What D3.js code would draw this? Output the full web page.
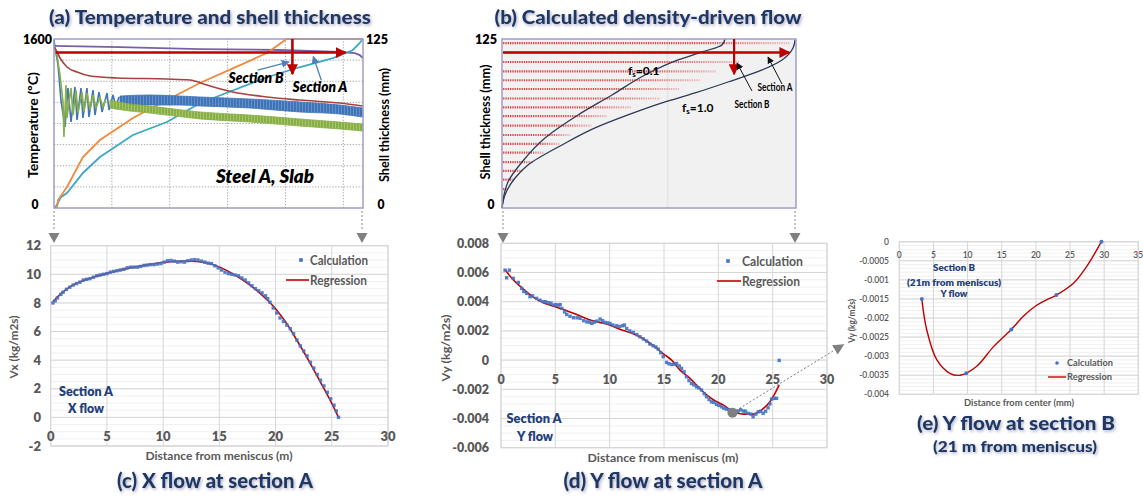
<!DOCTYPE html>
<html>
<head>
<meta charset="utf-8">
<script src="https://cdn.jsdelivr.net/npm/d3@7"></script>
<style>
body{margin:0;background:#fff}
svg{display:block;font-family:Lato,"Open Sans",sans-serif}
</style>
</head>
<body>
<svg id="fig" width="1143" height="497"></svg>
<script>
// ---------- (a) temperature (degC) and shell thickness (mm) vs distance (m)
const aPurple = [[0,1534],[5.7,1524],[12.61,1505],[19.52,1496],[24.7,1477],[26.0,1467],[26.42,1448],[26.68,1420]];
const aBrown = [[0,1524],[0.17,1496],[0.52,1420],[1.12,1335],[1.99,1287],[3.11,1250],[5.44,1231],[9.76,1221],[11.74,1212],[13.21,1164],[15.46,1098],[18.39,1051],[21.24,1022],[24.7,994],[26.68,966]];
const aBlueEarly = [[0,1590],[0.09,1515],[0.35,1354],[0.6,1022],[0.95,767],[1.21,1136],[1.47,814],[1.81,1146],[1.99,833],[2.33,1136],[2.5,852],[2.85,1136],[3.02,861],[3.37,1117],[3.54,880],[3.89,1098],[4.15,909],[4.58,1089],[4.75,928],[5.1,1070],[5.35,956],[5.61,1051]];
const aBlueBandX = [5.7, 8.29, 10.88, 12.61, 16.93, 21.24, 24.7, 26.68];
const aBlueBandHi = [1060, 1070, 1060, 1051, 1032, 1004, 975, 947];
const aBlueBandLo = [966, 975, 975, 966, 947, 909, 890, 861];
const aGreenEarly = [[0,1543],[0.26,1448],[0.52,1259],[0.78,1004],[0.86,672],[1.04,1164],[1.12,852],[1.47,1136],[1.64,880],[1.9,1117],[2.07,899],[2.42,1098],[2.59,909],[2.85,1089],[3.11,928],[3.37,1070],[3.63,947],[3.97,1051],[4.23,956],[4.49,1032]];
const aGreenBandX = [4.84, 6.56, 8.29, 12.61, 16.93, 21.24, 24.7, 26.68];
const aGreenBandHi = [1022, 985, 966, 909, 880, 843, 814, 795];
const aGreenBandLo = [947, 918, 899, 843, 814, 776, 748, 729];
const aOrange = [[0.26,0],[0.35,5.9],[1.12,15.5],[2.5,37.7],[3.97,50.3],[6.82,66.6],[9.76,79.9],[12.6,92.5],[15.5,103.5],[18.4,114.6],[20.1,125],[26.7,125]];
const aTeal = [[0.09,0],[0.6,8],[1.12,11.1],[2.5,25.9],[3.97,37.7],[6.82,54],[9.76,63.6],[12.6,77.5],[15.5,87.1],[18.4,96.7],[21.2,104.1],[24.1,110.8],[25.8,116.7],[26.4,121.9],[26.68,125]];
const aTempTicks = [0, 1600];
const aShellTicks = [0, 125];

// ---------- (b) solid fraction fronts and flow magnitude rows
const bFs01 = [[0,0],[0.18,9.6],[0.54,19.2],[1.81,34],[3.89,51.8],[6.88,68.8],[9.95,83.6],[12.94,98.4],[15.93,109.5],[18.1,115.4],[19.9,120.6],[20.18,125]];
const bFs10 = [[0,0],[0.27,9.6],[1.18,22.2],[2.35,31.8],[5.43,46.6],[8.42,59.2],[11.4,68.8],[14.48,77.7],[17.47,85.1],[20.45,93.2],[23.53,102.1],[25.34,109.5],[26.33,118.3],[26.52,124.5]];
const bRowDepth = [122, 115, 108, 101, 94.5, 88, 81, 74.5, 68, 61, 54, 47.5, 41, 34, 27.5, 21, 14];
const bRowLength = [26.0, 24.0, 21.5, 19.4, 18.0, 16.1, 14.3, 11.7, 9.5, 8.1, 6.2, 5.2, 3.8, 2.8, 1.9, 1.1, 0.45];
const sectionADepth = 115;
const sectionBDist = 21;

// ---------- (c) X flow at section A
const cCalc = [[0.2,8.0],[0.4,8.15],[0.6,8.35],[0.9,8.6],[1.1,8.75],[1.4,8.95],[1.7,9.1],[2.0,9.25],[2.3,9.35],[2.6,9.45],[2.9,9.6],[3.2,9.65],[3.5,9.7],[3.8,9.8],[4.1,9.9],[4.4,9.95],[4.7,10.0],[5.0,10.05],[5.3,10.15],[5.6,10.2],[5.9,10.25],[6.2,10.3],[6.5,10.35],[6.8,10.45],[7.1,10.5],[7.4,10.5],[7.7,10.5],[8.0,10.55],[8.3,10.62],[8.6,10.65],[8.9,10.68],[9.2,10.68],[9.5,10.72],[9.8,10.75],[10.1,10.85],[10.4,10.95],[10.7,10.97],[11.0,10.92],[11.3,10.85],[11.6,10.88],[11.9,10.85],[12.2,10.95],[12.5,11.0],[12.8,11.02],[13.1,11.0],[13.4,10.92],[13.7,10.85],[14.0,10.78],[14.3,10.75],[14.6,10.6],[14.9,10.45],[15.2,10.3],[15.5,10.15],[15.8,10.05],[16.1,10.0],[16.4,9.95],[16.7,9.9],[17.0,9.75],[17.3,9.6],[17.6,9.4],[17.9,9.2],[18.2,9.0],[18.5,8.85],[18.8,8.7],[19.1,8.5],[19.3,8.3],[19.5,8.05],[19.8,7.65],[20.1,7.3],[20.4,6.95],[20.7,6.7],[21.0,6.45],[21.3,6.2],[21.6,5.85],[21.9,5.4],[22.2,5.0],[22.5,4.65],[22.8,4.3],[23.1,3.85],[23.4,3.45],[23.7,3.0],[24.0,2.6],[24.3,2.2],[24.6,1.75],[24.9,1.3],[25.2,0.85],[25.4,0.45],[25.6,0.0]];
const cReg = [[0.2,8.1],[1,8.7],[2,9.26],[3,9.58],[4,9.85],[5,10.07],[6,10.27],[7,10.45],[8,10.58],[9,10.72],[10,10.84],[11,10.9],[12,10.93],[13,10.9],[14,10.78],[15,10.52],[16,10.12],[17,9.65],[18,9.08],[19,8.4],[20,7.6],[21,6.55],[22,5.25],[23,3.9],[24,2.45],[25,0.98],[25.6,0]];
const cXTicks = [0, 5, 10, 15, 20, 25, 30];
const cYTicks = [-2, 0, 2, 4, 6, 8, 10, 12];

// ---------- (d) Y flow at section A
const dCalc = [[0.37,0.00616],[0.52,0.00564],[0.77,0.00616],[1.13,0.0056],[1.59,0.00532],[1.9,0.00491],[2.1,0.0047],[2.36,0.00457],[2.67,0.00434],[2.9,0.0044],[3.28,0.00423],[3.6,0.0041],[3.9,0.004],[4.1,0.004],[4.36,0.00393],[4.6,0.0039],[4.82,0.00377],[5.05,0.0038],[5.28,0.00377],[5.45,0.0038],[5.6,0.00354],[5.85,0.0033],[6.05,0.00313],[6.35,0.003],[6.67,0.0029],[7.0,0.0029],[7.28,0.00286],[7.6,0.0027],[7.9,0.00262],[8.15,0.0026],[8.36,0.00251],[8.6,0.0026],[8.82,0.00267],[9.12,0.00281],[9.35,0.0027],[9.57,0.00258],[9.8,0.00255],[10.03,0.00251],[10.3,0.0024],[10.64,0.00235],[10.9,0.0023],[11.19,0.00235],[11.35,0.0024],[11.56,0.00217],[11.85,0.002],[12.17,0.0019],[12.5,0.00175],[12.78,0.0016],[13.1,0.00145],[13.4,0.0013],[13.7,0.0011],[14.0,0.00098],[14.25,0.0009],[14.47,0.00075],[14.7,0.0005],[14.93,0.00023],[15.24,-0.00016],[15.45,-0.00025],[15.7,-0.0003],[15.95,-0.00028],[16.16,-0.00023],[16.4,-0.0004],[16.62,-0.00057],[16.85,-0.0008],[17.07,-0.00114],[17.3,-0.0014],[17.53,-0.0016],[17.75,-0.0017],[17.99,-0.00183],[18.2,-0.0019],[18.45,-0.00205],[18.7,-0.0023],[18.91,-0.00251],[19.15,-0.0027],[19.37,-0.00286],[19.6,-0.0029],[19.83,-0.00303],[20.05,-0.0031],[20.29,-0.0032],[20.5,-0.0033],[20.75,-0.00336],[21.0,-0.0034],[21.6,-0.0035],[21.83,-0.00349],[22.05,-0.0034],[22.29,-0.00349],[22.5,-0.0035],[22.75,-0.00365],[23.0,-0.0037],[23.2,-0.00388],[23.45,-0.0037],[23.67,-0.00354],[23.9,-0.0035],[24.12,-0.00365],[24.35,-0.0035],[24.58,-0.00327],[24.75,-0.003],[24.9,-0.00267],[25.15,-0.00262],[25.36,-0.00262],[25.6,-0.00002]];
const dReg = [[0.37,0.0062],[1,0.0056],[2,0.0049],[3,0.0043],[4,0.0039],[5,0.00366],[6,0.0034],[7,0.0031],[8,0.0028],[9,0.0026],[10,0.0024],[11,0.0021],[12,0.00185],[13,0.0015],[14,0.001],[15,0.0004],[15.7,0.0],[16.5,-0.0007],[17.4,-0.00125],[18.5,-0.0021],[19.5,-0.0027],[20.5,-0.0031],[21.3,-0.0035],[22.3,-0.0037],[23.2,-0.0037],[24,-0.0034],[24.75,-0.00285],[25.2,-0.0023],[25.6,-0.0017]];
const dSectionB = [21.3, -0.0036];
const dXTicks = [0, 5, 10, 15, 20, 25, 30];
const dYTicks = [-0.006, -0.004, -0.002, 0, 0.002, 0.004, 0.006, 0.008];

// ---------- (e) Y flow at section B
const eCalc = [[3.3,-0.0015],[9.8,-0.00345],[16.4,-0.0023],[23,-0.0014],[29.6,0]];
const eReg = [[3.3,-0.0015],[4.0,-0.0023],[5.5,-0.0031],[7.4,-0.00345],[8.9,-0.0035],[11.3,-0.00327],[13.8,-0.00275],[16.4,-0.0023],[18.2,-0.00195],[20,-0.00168],[21.5,-0.00153],[23,-0.0014],[25.5,-0.00109],[27.4,-0.00066],[29.6,0]];
const eXTicks = [0, 5, 10, 15, 20, 25, 30, 35];
const eYTicks = [-0.004, -0.0035, -0.003, -0.0025, -0.002, -0.0015, -0.001, -0.0005, 0];

const navy = '#1f3864', textGray = '#595959', calcBlue = '#4472c4', regRed = '#c00000';

const svg = d3.select('#fig');
const defs = svg.append('defs');

const glow = defs.append('filter').attr('id', 'glow').attr('x', '-10%').attr('y', '-30%').attr('width', '120%').attr('height', '160%');
glow.append('feDropShadow').attr('dx', 1.2).attr('dy', 1.5).attr('stdDeviation', 1.4)
  .attr('flood-color', '#7a7fa8').attr('flood-opacity', 0.65);

function marker(id, color, size) {
  defs.append('marker').attr('id', id).attr('viewBox', '0 0 10 10')
    .attr('refX', 9).attr('refY', 5).attr('markerWidth', size).attr('markerHeight', size)
    .attr('markerUnits', 'userSpaceOnUse').attr('orient', 'auto')
    .append('path').attr('d', 'M0,0L10,5L0,10z').attr('fill', color);
}
marker('redHead', '#c00000', 11);
marker('blueHead', '#4f81bd', 8);
marker('blackHead', '#111', 7);
marker('grayHead', '#808080', 11);

function stripes(id, bg, fg) {
  const p = defs.append('pattern').attr('id', id).attr('patternUnits', 'userSpaceOnUse')
    .attr('width', 3).attr('height', 6);
  p.append('rect').attr('width', 3).attr('height', 6).attr('fill', bg);
  p.append('rect').attr('width', 2).attr('height', 6).attr('fill', fg);
}
stripes('blueTex', '#6690c8', '#3f74b8');
stripes('greenTex', '#a6c46e', '#88ae46');

function title(x, y, size, len, txt) {
  svg.append('text').attr('x', x).attr('y', y).attr('text-anchor', 'middle')
    .attr('font-size', size).attr('font-weight', 900).attr('fill', navy)
    .attr('textLength', len).attr('lengthAdjust', 'spacingAndGlyphs')
    .attr('filter', 'url(#glow)').text(txt);
}

function label(g, x, y, size, len, txt, opt = {}) {
  return g.append('text').attr('x', x).attr('y', y)
    .attr('text-anchor', opt.anchor || 'middle').attr('font-size', size)
    .attr('font-weight', opt.weight || 700).attr('font-style', opt.style || 'normal')
    .attr('fill', opt.fill || '#000')
    .attr('textLength', len).attr('lengthAdjust', 'spacingAndGlyphs').text(txt);
}

function vLabel(g, x, y, size, len, txt, fill) {
  g.append('text').attr('transform', `translate(${x},${y}) rotate(-90)`)
    .attr('text-anchor', 'middle').attr('font-size', size).attr('font-weight', 700)
    .attr('fill', fill).attr('textLength', len).attr('lengthAdjust', 'spacingAndGlyphs').text(txt);
}

//________________ (a) ________________
const ga = svg.append('g');
const ax = d3.scaleLinear().domain([0, 26.7]).range([54, 363]);
const aT = d3.scaleLinear().domain([0, 1600]).range([208, 39]);
const aS = d3.scaleLinear().domain([0, 125]).range([208, 39]);

ga.selectAll(null).data(aT.ticks(8).filter(d => d > 0 && d < 1600)).join('line')
  .attr('x1', ax(0)).attr('x2', ax(26.7)).attr('y1', d => aT(d)).attr('y2', d => aT(d))
  .attr('stroke', '#9c9c9c').attr('stroke-width', 0.9).attr('stroke-dasharray', '1.3,1.6');
ga.selectAll(null).data([5, 10, 15, 20, 25]).join('line')
  .attr('x1', d => ax(d)).attr('x2', d => ax(d)).attr('y1', aT(0)).attr('y2', aT(1600))
  .attr('stroke', '#9c9c9c').attr('stroke-width', 0.9).attr('stroke-dasharray', '1.3,1.6');

const lineA = d3.line().x(d => ax(d[0])).y(d => aT(d[1]));
const lineS = d3.line().x(d => ax(d[0])).y(d => aS(d[1]));

ga.append('path').datum(aPurple).attr('d', lineA).attr('fill', 'none').attr('stroke', '#7b5fa3').attr('stroke-width', 1.8);
ga.append('path').datum(aTeal).attr('d', lineS).attr('fill', 'none').attr('stroke', '#3ea7c2').attr('stroke-width', 1.8);
ga.append('path').datum(aOrange).attr('d', lineS).attr('fill', 'none').attr('stroke', '#f08a3c').attr('stroke-width', 1.8);

const blueBand = aBlueBandX.map((x, i) => [x, aBlueBandLo[i], aBlueBandHi[i]]);
const greenBand = aGreenBandX.map((x, i) => [x, aGreenBandLo[i], aGreenBandHi[i]]);
const band = d3.area().curve(d3.curveMonotoneX).x(d => ax(d[0])).y0(d => aT(d[1])).y1(d => aT(d[2]));

ga.append('path').datum(blueBand).attr('d', band).attr('fill', 'url(#blueTex)').attr('stroke', '#3f74b8').attr('stroke-width', 0.8);
ga.append('path').datum(aBlueEarly).attr('d', lineA).attr('fill', 'none').attr('stroke', '#3f74b8').attr('stroke-width', 1.6);
ga.append('path').datum(greenBand).attr('d', band).attr('fill', 'url(#greenTex)').attr('stroke', '#88ae46').attr('stroke-width', 0.8);
ga.append('path').datum(aGreenEarly).attr('d', lineA).attr('fill', 'none').attr('stroke', '#88ae46').attr('stroke-width', 1.6);
ga.append('path').datum(aBrown).attr('d', lineA.curve(d3.curveMonotoneX)).attr('fill', 'none').attr('stroke', '#a8413f').attr('stroke-width', 1.6);
lineA.curve(d3.curveLinear);

ga.append('rect').attr('x', ax(0)).attr('y', aT(1600)).attr('width', ax(26.7) - ax(0)).attr('height', aT(0) - aT(1600))
  .attr('fill', 'none').attr('stroke', '#a09cc9').attr('stroke-width', 1.5);

// section arrows
ga.append('line').attr('x1', ax(0.15)).attr('x2', ax(25.2)).attr('y1', aS(sectionADepth)).attr('y2', aS(sectionADepth))
  .attr('stroke', '#c00000').attr('stroke-width', 2.6).attr('marker-end', 'url(#redHead)');
ga.append('line').attr('x1', ax(20.6)).attr('x2', ax(20.6)).attr('y1', aS(125)).attr('y2', aS(99))
  .attr('stroke', '#c00000').attr('stroke-width', 2.6).attr('marker-end', 'url(#redHead)');
ga.append('line').attr('x1', ax(17.6)).attr('y1', aS(102)).attr('x2', ax(20.3)).attr('y2', aS(108))
  .attr('stroke', '#4f81bd').attr('stroke-width', 1.3).attr('marker-end', 'url(#blueHead)');
ga.append('line').attr('x1', ax(23.1)).attr('y1', aS(94.5)).attr('x2', ax(22.4)).attr('y2', aS(112))
  .attr('stroke', '#4f81bd').attr('stroke-width', 1.3).attr('marker-end', 'url(#blueHead)');

label(ga, 256, 83, 14, 55, 'Section B', {style: 'italic', weight: 800});
label(ga, 320, 92, 14, 55, 'Section A', {style: 'italic', weight: 800});
label(ga, 265, 183, 19, 98, 'Steel A, Slab', {style: 'italic', weight: 800});

label(ga, 52, aT(1600) + 5, 13, 29, String(aTempTicks[1]), {anchor: 'end', weight: 800});
label(ga, 35, aT(0) + 1, 13, 7, String(aTempTicks[0]), {weight: 800});
label(ga, 366, aS(125) + 5, 13, 22, String(aShellTicks[1]), {anchor: 'start', weight: 800});
label(ga, 381, aS(0) + 1, 13, 7, String(aShellTicks[0]), {weight: 800});
vLabel(ga, 38, 125, 14, 106, 'Temperature (ºC)', '#000');
vLabel(ga, 389, 125, 14, 114, 'Shell thickness (mm)', '#000');

title(210, 24, 19, 322, '(a) Temperature and shell thickness');

//________________ (b) ________________
const gb = svg.append('g');
const bx = d3.scaleLinear().domain([0, 26.6]).range([502, 796]);
const by = d3.scaleLinear().domain([0, 125]).range([208, 39]);

gb.append('rect').attr('x', bx(0)).attr('y', by(125)).attr('width', bx(26.6) - bx(0)).attr('height', by(0) - by(125))
  .attr('fill', '#f1f1f1');
gb.append('line').attr('x1', bx(15)).attr('x2', bx(15)).attr('y1', by(0)).attr('y2', by(125))
  .attr('stroke', '#d9d9d9').attr('stroke-width', 0.8);

bRowDepth.forEach((dep, i) => {
  const grad = defs.append('linearGradient').attr('id', 'fade' + i).attr('gradientUnits', 'userSpaceOnUse')
    .attr('x1', bx(0)).attr('x2', bx(bRowLength[i])).attr('y1', 0).attr('y2', 0);
  grad.append('stop').attr('offset', '0%').attr('stop-color', '#e03c3c').attr('stop-opacity', 1);
  grad.append('stop').attr('offset', '70%').attr('stop-color', '#e03c3c').attr('stop-opacity', 0.9);
  grad.append('stop').attr('offset', '100%').attr('stop-color', '#e03c3c').attr('stop-opacity', 0.3);
  gb.append('line').attr('x1', bx(0.1)).attr('x2', bx(bRowLength[i])).attr('y1', by(dep)).attr('y2', by(dep))
    .attr('stroke', `url(#fade${i})`).attr('stroke-width', 2.2).attr('stroke-dasharray', '1.3,1');
});

const lineB = d3.line().curve(d3.curveMonotoneY).x(d => bx(d[0])).y(d => by(d[1]));
gb.append('path').datum(bFs01).attr('d', lineB).attr('fill', 'none').attr('stroke', '#2b3a55').attr('stroke-width', 1.3);
gb.append('path').datum(bFs10).attr('d', lineB).attr('fill', 'none').attr('stroke', '#2b3a55').attr('stroke-width', 1.3);

gb.append('rect').attr('x', bx(0)).attr('y', by(125)).attr('width', bx(26.6) - bx(0)).attr('height', by(0) - by(125))
  .attr('fill', 'none').attr('stroke', '#a09cc9').attr('stroke-width', 1.5);

gb.append('line').attr('x1', bx(0.1)).attr('x2', bx(26.0)).attr('y1', by(sectionADepth)).attr('y2', by(sectionADepth))
  .attr('stroke', '#c00000').attr('stroke-width', 2.6).attr('marker-end', 'url(#redHead)');
gb.append('line').attr('x1', bx(sectionBDist)).attr('x2', bx(sectionBDist)).attr('y1', by(125)).attr('y2', by(99))
  .attr('stroke', '#c00000').attr('stroke-width', 2.2).attr('marker-end', 'url(#redHead)');
gb.append('line').attr('x1', 782).attr('y1', 84).attr('x2', 768).attr('y2', 57)
  .attr('stroke', '#111').attr('stroke-width', 1).attr('marker-end', 'url(#blackHead)');
gb.append('line').attr('x1', 752).attr('y1', 91).attr('x2', 737).attr('y2', 63)
  .attr('stroke', '#111').attr('stroke-width', 1).attr('marker-end', 'url(#blackHead)');

label(gb, 775, 91, 12, 35, 'Section A');
label(gb, 752, 108, 12, 35, 'Section B');
const fs1 = gb.append('text').attr('x', 628).attr('y', 75).attr('font-size', 12).attr('font-weight', 700);
fs1.append('tspan').text('f');
fs1.append('tspan').attr('font-size', 8).attr('dy', 2).text('s');
fs1.append('tspan').attr('dy', -2).text('=0.1');
const fs2 = gb.append('text').attr('x', 682).attr('y', 112).attr('font-size', 12).attr('font-weight', 700);
fs2.append('tspan').text('f');
fs2.append('tspan').attr('font-size', 8).attr('dy', 2).text('s');
fs2.append('tspan').attr('dy', -2).text('=1.0');

label(gb, 497, by(125) + 5, 13, 22, '125', {anchor: 'end', weight: 800});
label(gb, 491, by(0) + 1, 13, 7, '0', {weight: 800});
vLabel(gb, 490, 122, 14, 115, 'Shell thickness (mm)', '#000');

title(648, 24, 19, 307, '(b) Calculated density-driven flow');

// drop lines from (a),(b) down to (c),(d)
const drops = [[ax(0), 51], [ax(26.7) - 1, 362], [bx(0) + 1, 504], [bx(26.6) - 1, 793]];
drops.forEach(([xTop]) => {
  svg.append('line').attr('x1', xTop).attr('x2', xTop).attr('y1', 211).attr('y2', 231)
    .attr('stroke', '#8a8a8a').attr('stroke-width', 1).attr('stroke-dasharray', '2,2');
  svg.append('path').attr('d', `M${xTop - 5.5},233L${xTop + 5.5},233L${xTop},243Z`).attr('fill', '#808080');
});

//________________ flow panels (c),(d),(e) ________________
function flowPanel(o) {
  const g = svg.append('g');
  const [xa, xb] = o.x.range();
  const [ya, yb] = o.y.range();
  g.selectAll(null).data(o.y.ticks(o.minorCount)).join('line')
    .attr('x1', xa).attr('x2', xb).attr('y1', d => o.y(d)).attr('y2', d => o.y(d))
    .attr('stroke', '#ececec').attr('stroke-width', 0.8);
  g.selectAll(null).data(o.yTicks).join('line')
    .attr('x1', xa).attr('x2', xb).attr('y1', d => o.y(d)).attr('y2', d => o.y(d))
    .attr('stroke', '#d6d6d6').attr('stroke-width', 1);
  g.selectAll(null).data(o.xTicks).join('line')
    .attr('x1', d => o.x(d)).attr('x2', d => o.x(d)).attr('y1', ya).attr('y2', yb)
    .attr('stroke', '#d6d6d6').attr('stroke-width', 1);
  g.append('rect').attr('x', xa).attr('y', yb).attr('width', xb - xa).attr('height', ya - yb)
    .attr('fill', 'none').attr('stroke', '#d6d6d6');

  g.selectAll(null).data(o.yTicks).join('text')
    .attr('x', o.yLabX).attr('y', d => o.y(d) + o.fs * 0.36).attr('text-anchor', 'end')
    .attr('font-size', o.fs).attr('font-weight', o.tickWeight).attr('fill', textGray).text(o.yFmt);
  g.selectAll(null).data(o.xTicks).join('text')
    .attr('x', d => o.x(d)).attr('y', o.xLabY).attr('text-anchor', 'middle')
    .attr('font-size', o.fs).attr('font-weight', o.tickWeight).attr('fill', textGray).text(d => d);

  g.append('path').datum(o.reg)
    .attr('d', d3.line().curve(o.curve || d3.curveMonotoneX).x(d => o.x(d[0])).y(d => o.y(d[1])))
    .attr('fill', 'none').attr('stroke', regRed).attr('stroke-width', o.regW);
  if (o.dots) {
    g.selectAll(null).data(o.calc).join('circle')
      .attr('cx', d => o.x(d[0])).attr('cy', d => o.y(d[1])).attr('r', 2).attr('fill', calcBlue);
  } else {
    g.selectAll(null).data(o.calc).join('rect')
      .attr('x', d => o.x(d[0]) - 1.7).attr('y', d => o.y(d[1]) - 1.7)
      .attr('width', 3.4).attr('height', 3.4).attr('fill', calcBlue).attr('opacity', 0.9);
  }

  // legend
  const L = o.legend;
  if (o.dots) {
    g.append('circle').attr('cx', L.mark).attr('cy', L.y1).attr('r', 1.8).attr('fill', calcBlue);
  } else {
    g.append('rect').attr('x', L.mark - 1.8).attr('y', L.y1 - 1.8).attr('width', 3.6).attr('height', 3.6).attr('fill', calcBlue);
  }
  g.append('line').attr('x1', L.l0).attr('x2', L.l1).attr('y1', L.y2).attr('y2', L.y2)
    .attr('stroke', regRed).attr('stroke-width', o.regW);
  label(g, L.tx, L.y1 + L.fs * 0.36, L.fs, L.w1, 'Calculation', {anchor: 'start', fill: textGray});
  label(g, L.tx, L.y2 + L.fs * 0.36, L.fs, L.w2, 'Regression', {anchor: 'start', fill: textGray});

  o.notes.forEach(n => label(g, n[0], n[1], o.noteFs, n[2], n[3], {fill: '#23407a', weight: 800}));

  label(g, o.xTitle[0], o.xTitle[1], o.titleFs, o.xTitle[2], o.xTitle[3], {fill: textGray});
  vLabel(g, o.yTitle[0], o.yTitle[1], o.titleFs, o.yTitle[2], o.yTitle[3], textGray);
  return g;
}

const cx = d3.scaleLinear().domain([0, 30]).range([50.7, 388]);
const cy = d3.scaleLinear().domain([-2, 12]).range([446, 245.7]);
flowPanel({
  x: cx, y: cy, xTicks: cXTicks, yTicks: cYTicks, minorCount: 28,
  yLabX: 41, xLabY: 441, fs: 13, tickWeight: 800, yFmt: d => d,
  reg: cReg, calc: cCalc, regW: 1.6, dots: false,
  legend: {mark: 301, y1: 260, y2: 280, l0: 286, l1: 309, tx: 310, fs: 13, w1: 58, w2: 57},
  notes: [[86, 396, 54, 'Section A'], [86, 413, 36, 'X flow']], noteFs: 13,
  titleFs: 11.5, xTitle: [219, 460, 147, 'Distance from meniscus (m)'], yTitle: [18, 347, 63, 'Vx (kg/m2s)']
});
title(215, 488, 21, 196, '(c) X flow at section A');

const dx = d3.scaleLinear().domain([0, 30]).range([501, 827]);
const dy = d3.scaleLinear().domain([-0.006, 0.008]).range([447.7, 243.3]);
const gd = flowPanel({
  x: dx, y: dy, xTicks: dXTicks, yTicks: dYTicks, minorCount: 28,
  yLabX: 489, xLabY: 383.5, fs: 12.5, tickWeight: 800, yFmt: d => d === 0 ? '0' : d.toFixed(3),
  reg: dReg, calc: dCalc, regW: 1.6, dots: false,
  legend: {mark: 728, y1: 261, y2: 281, l0: 717, l1: 741, tx: 742, fs: 13, w1: 61, w2: 58},
  notes: [[534, 423, 55, 'Section A'], [535, 441, 36, 'Y flow']], noteFs: 13,
  titleFs: 11.5, xTitle: [663, 462, 151, 'Distance from meniscus (m)'], yTitle: [450, 348, 67, 'Vy (kg/m2s)']
});
title(663, 488, 21, 199, '(d) Y flow at section A');

const ex = d3.scaleLinear().domain([0, 35]).range([899.3, 1138.3]);
const ey = d3.scaleLinear().domain([-0.004, 0]).range([394.3, 241.7]);
flowPanel({
  x: ex, y: ey, xTicks: eXTicks, yTicks: eYTicks, minorCount: 40,
  yLabX: 889, xLabY: 257.5, fs: 8.5, tickWeight: 600, yFmt: d => d === 0 ? '0' : String(+d.toFixed(4)),
  reg: eReg, calc: eCalc, regW: 1.4, dots: true, curve: d3.curveCatmullRom.alpha(0.5),
  legend: {mark: 1057, y1: 363, y2: 377, l0: 1048, l1: 1066, tx: 1067, fs: 8.5, w1: 46, w2: 45},
  notes: [[954, 271, 42, 'Section B'], [954, 285.5, 94, '(21m from meniscus)'], [954, 297, 27, 'Y flow']], noteFs: 9,
  titleFs: 8.5, xTitle: [1019, 406, 110, 'Distance from center (mm)'], yTitle: [855, 321, 44, 'Vy (kg/m2s)']
});
title(1016, 430, 19, 198, '(e) Y flow at section B');
title(1015, 452, 15.5, 164, '(21 m from meniscus)');

// link from section B point in (d) to panel (e)
const p0 = [dx(dSectionB[0]), dy(dSectionB[1])];
const p1 = [ex(0) - 56, ey(-0.0027)];
svg.append('line').attr('x1', p0[0]).attr('y1', p0[1]).attr('x2', p1[0]).attr('y2', p1[1])
  .attr('stroke', '#808080').attr('stroke-width', 1).attr('stroke-dasharray', '2,2').attr('marker-end', 'url(#grayHead)');
gd.append('circle').attr('cx', p0[0]).attr('cy', p0[1]).attr('r', 5).attr('fill', '#7f7f7f');
</script>
</body>
</html>
